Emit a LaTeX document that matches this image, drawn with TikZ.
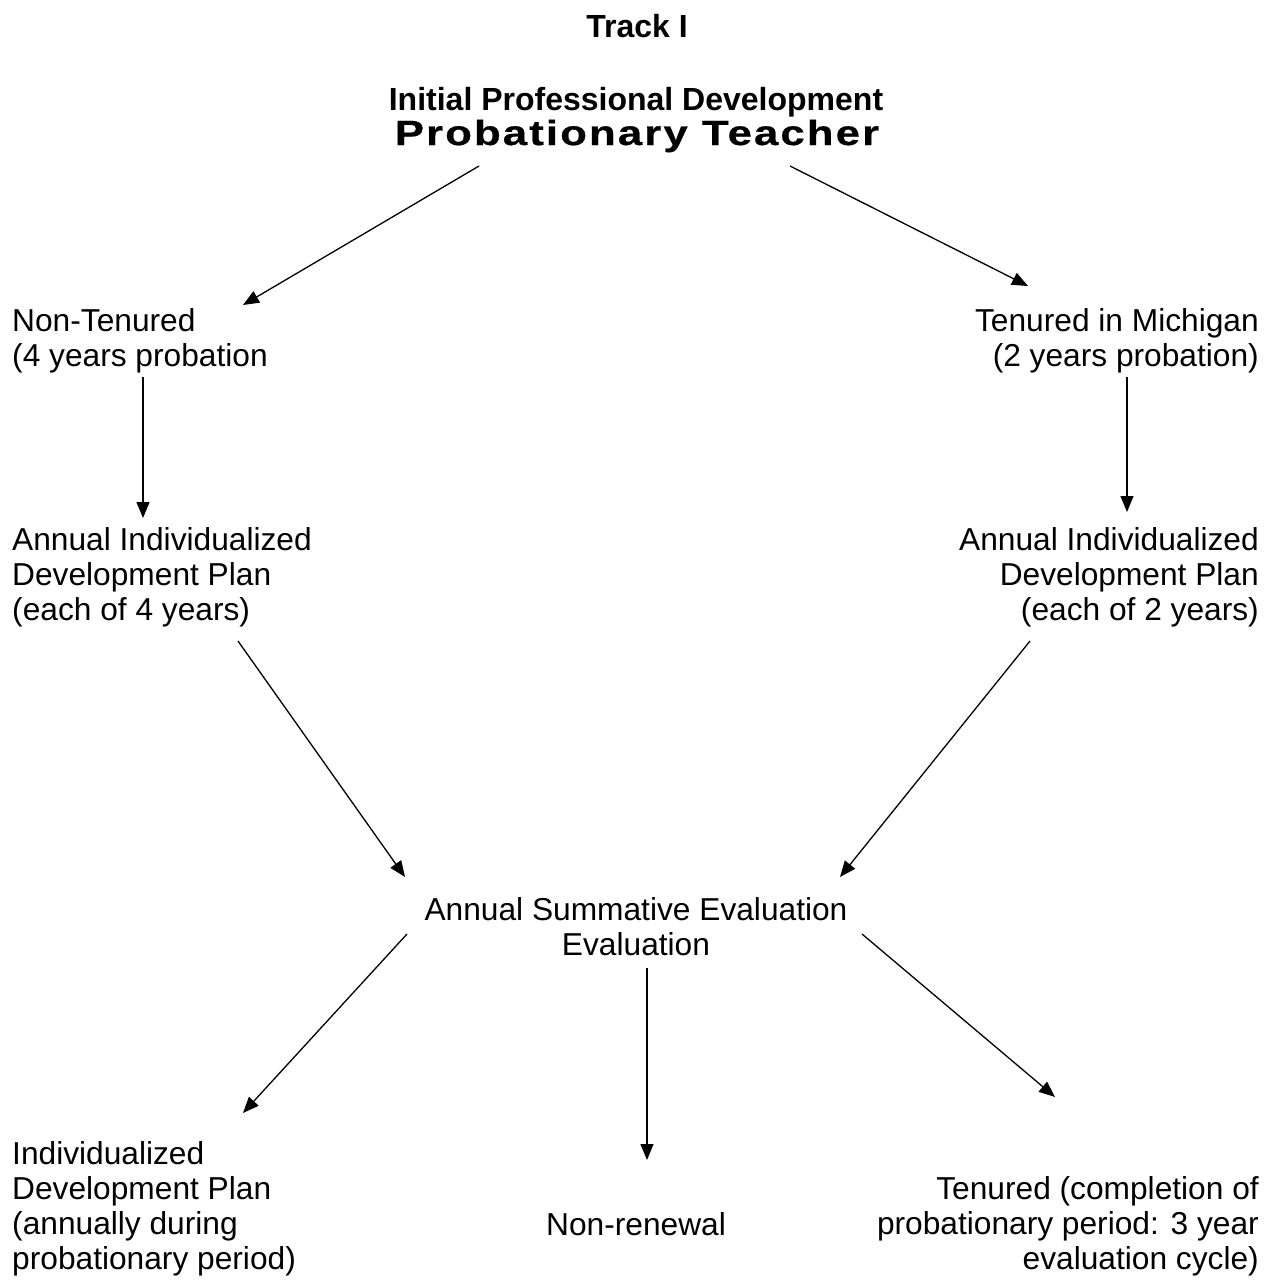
\documentclass[tikz,border=0pt]{standalone}
\usepackage{fontspec}
\setmainfont{Liberation Sans}
\newfontfamily\widebold[FakeStretch=1.25,LetterSpace=6,FakeBold=0.6]{Liberation Sans}
\usetikzlibrary{arrows.meta}
\begin{document}
\begin{tikzpicture}[x=1pt,y=-1pt,
  lbl/.style={inner sep=0pt,font=\fontsize{31.7}{35}\selectfont},
  conn/.style={-{Triangle[length=16pt,width=13pt]},line width=1.3pt}]
\useasboundingbox (0,0) rectangle (1273,1280);
% titles
\node[lbl,anchor=base,font=\fontsize{32}{35}\selectfont\bfseries] (track) at (637,37) {Track I};
\node[lbl,anchor=base,font=\fontsize{32}{35}\selectfont\bfseries] (ipd) at (636,110) {Initial Professional Development};
\node[lbl,anchor=base,font=\fontsize{35}{40}\widebold\bfseries] (prob) at (637,145) {Probationary Teacher};
% middle rows
\node[lbl,anchor=north west,align=left] (nt) at (12,308) {Non-Tenured\\(4 years probation};
\node[lbl,anchor=north east,align=right] (tm) at (1259,308) {Tenured in Michigan\\(2 years probation)};
\node[lbl,anchor=north west,align=left] (aidl) at (12,527) {Annual Individualized\\Development Plan\\(each of 4 years)};
\node[lbl,anchor=north east,align=right] (aidr) at (1259,527) {Annual Individualized\\Development Plan\\(each of 2 years)};
\node[lbl,anchor=north,align=center] (ase) at (636,897) {Annual Summative Evaluation\\Evaluation};
% bottom row
\node[lbl,anchor=north west,align=left] (idp) at (12,1141) {Individualized\\Development Plan\\(annually during\\probationary period)};
\node[lbl,anchor=base] (nr) at (636,1235) {Non-renewal};
\node[lbl,anchor=north east,align=right] (ten) at (1259,1176) {Tenured (completion of\\probationary period: 3 year\\evaluation cycle)};
% connector endpoints
\coordinate (p1s) at (479,166); \coordinate (p1e) at (243,305);
\coordinate (p2s) at (790,166); \coordinate (p2e) at (1028,286);
\coordinate (p3s) at (143,377); \coordinate (p3e) at (143,518);
\coordinate (p4s) at (1127,377); \coordinate (p4e) at (1127,512);
\coordinate (p5s) at (238,641); \coordinate (p5e) at (405,877);
\coordinate (p6s) at (1030,641); \coordinate (p6e) at (840,877);
\coordinate (p7s) at (407,934); \coordinate (p7e) at (243,1113);
\coordinate (p8s) at (647,968); \coordinate (p8e) at (647,1160);
\coordinate (p9s) at (862,934); \coordinate (p9e) at (1055,1097);
\draw[conn] (p1s) -- (p1e);
\draw[conn] (p2s) -- (p2e);
\draw[conn] (p3s) -- (p3e);
\draw[conn] (p4s) -- (p4e);
\draw[conn] (p5s) -- (p5e);
\draw[conn] (p6s) -- (p6e);
\draw[conn] (p7s) -- (p7e);
\draw[conn] (p8s) -- (p8e);
\draw[conn] (p9s) -- (p9e);
\end{tikzpicture}
\end{document}
